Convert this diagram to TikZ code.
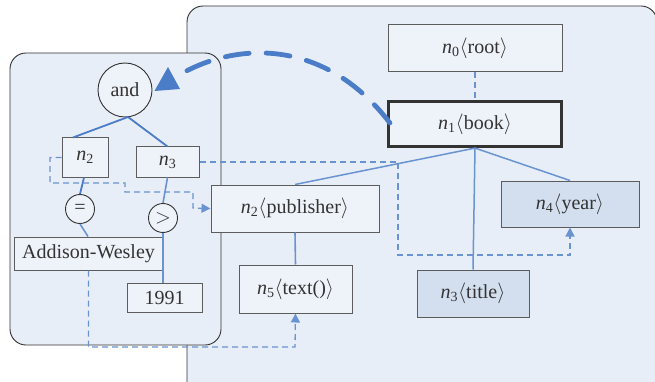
\documentclass[tikz,border=0pt]{standalone}
\usepackage{fontspec}
\setmainfont{Liberation Serif}
\usetikzlibrary{arrows.meta}
\definecolor{panelfill}{HTML}{E8EEF7}
\definecolor{boxfill}{HTML}{EEF2F9}
\definecolor{hlfill}{HTML}{D3DFEF}
\definecolor{edgeblue}{HTML}{4A7CC8}
\definecolor{lightblue}{HTML}{6A93D1}
\definecolor{ink}{HTML}{333333}
\newcommand{\tagnode}[2]{\textit{n}\textsubscript{#1}$\langle$#2$\rangle$}
\tikzset{
  panel/.style={draw=ink, line width=0.9pt, fill=panelfill, rounded corners=16pt},
  tbox/.style={draw=ink!80, line width=1pt, fill=boxfill, inner sep=0pt, text=ink},
  hbox/.style={tbox, fill=hlfill},
  opcirc/.style={draw=ink, line width=0.9pt, circle, fill=boxfill, inner sep=0pt, text=ink},
  tree/.style={edgeblue, line width=1.8pt},
  treelight/.style={lightblue, line width=1.6pt},
  link/.style={lightblue, line width=1.3pt, dash pattern=on 6pt off 4pt},
  linkarrow/.style={link, -{Triangle[length=9pt,width=9pt]}},
}
\begin{document}
\begin{tikzpicture}[x=1pt,y=-1pt,font=\fontsize{20}{23}\selectfont]
\useasboundingbox (0,0) rectangle (655,382);
\begin{scope}
\clip (0,0) rectangle (655,382);
% document tree panel
\draw[panel] (187,6) rectangle (657,400);
\end{scope}
% query panel
\draw[panel] (10,53) rectangle (221,345);

% document tree
\node[tbox, minimum width=174pt, minimum height=47pt] (r0) at (475,48.5) {\tagnode{0}{root}};
\node[tbox, draw=ink, line width=3.2pt, minimum width=173pt, minimum height=45pt] (r1) at (475,124) {\tagnode{1}{book}};
\node[tbox, minimum width=168pt, minimum height=47pt] (r2) at (295,208.5) {\tagnode{2}{publisher}};
\node[tbox, minimum width=113pt, minimum height=48pt] (r5) at (295.5,289) {\tagnode{5}{text()}};
\node[hbox, minimum width=112pt, minimum height=47pt] (r3) at (473,293.5) {\tagnode{3}{title}};
\node[hbox, minimum width=138pt, minimum height=46pt] (r4) at (570,204) {\tagnode{4}{year}};

\draw[link] (r0.south) -- (r1.north);
\draw[treelight, line width=1.5pt] (r1.south) -- (r2.north);
\draw[treelight, line width=1.5pt] (r1.south) -- (r3.north);
\draw[treelight, line width=1.5pt] (r1.south) -- (r4.north);
\draw[treelight] (r2.south) -- (r5.north);

% query tree
\node[opcirc, minimum size=54pt] (and) at (125,90) {and};
\node[tbox, minimum width=46pt, minimum height=39pt] (q2) at (85,157.5) {\textit{n}\textsubscript{2}};
\node[tbox, minimum width=63pt, minimum height=30pt] (q3) at (167.5,162) {\textit{n}\textsubscript{3}};
\node[opcirc, minimum size=29pt] (eq) at (80,209) {=};
\node[opcirc, minimum size=29pt] (gt) at (163,218) {$>$};
\node[tbox, minimum width=149pt, minimum height=33pt] (aw) at (88.5,253.5) {Addison-Wesley};
\node[tbox, minimum width=75pt, minimum height=29pt] (yr) at (164.5,297.5) {1991};

\coordinate (fork) at (128,117);
\draw[tree] (fork) -- ([xshift=-12pt]q2.north);
\draw[tree] (fork) -- (q3.north);
\draw[tree] ([xshift=-1pt]q2.south) -- (eq.north);
\draw[treelight] (eq.south) -- ([xshift=-0.5pt]aw.north);
\draw[treelight] (q3.south) -- (gt.north);
\draw[treelight] (gt.south) -- ([xshift=-1.5pt]yr.north);

% node correspondences
\draw[linkarrow] (q2.west) -| (50,183) -| (125,192) -| (193,208) -- (r2.west);
\draw[linkarrow] (q3.east) -| (398,255) -| (r4.south);
\draw[linkarrow] (aw.south) |- (295,347) -- (r5.south);

% mapping of the query onto the document
\coordinate (mapend) at (174,78);
\draw[edgeblue, line width=4.8pt, line cap=round, dash pattern=on 24pt off 17pt]
  ([xshift=3pt,yshift=1pt]r1.west) .. controls (325,38) and (235,40) .. (mapend);
\fill[edgeblue] ([xshift=2pt,yshift=-1pt]and.east) -- (168,67) -- (180,89) -- cycle;
\end{tikzpicture}
\end{document}
